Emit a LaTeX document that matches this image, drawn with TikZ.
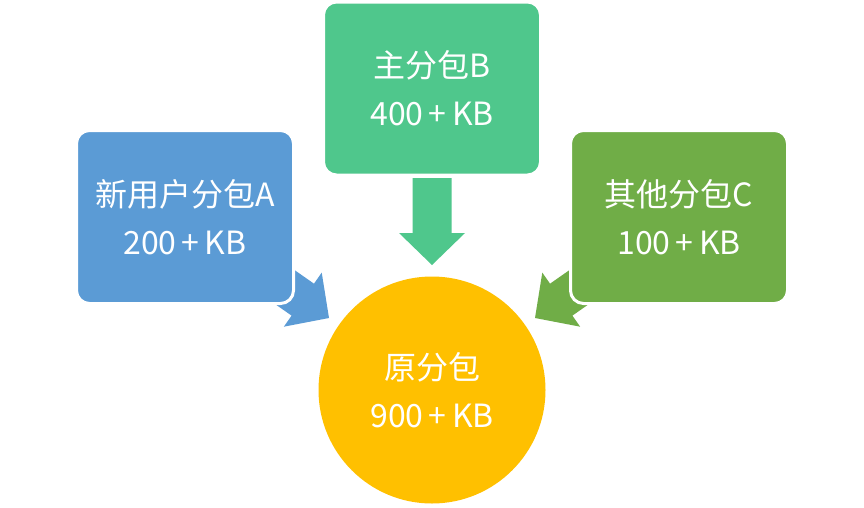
\documentclass[tikz,border=0pt]{standalone}
\usepackage{fontspec}
\newfontfamily\cjk{Noto Sans CJK SC}
\definecolor{cblue}{HTML}{5B9BD5}
\definecolor{cteal}{HTML}{4FC78C}
\definecolor{cgreen}{HTML}{70AD47}
\definecolor{cgold}{HTML}{FFC000}
\begin{document}
\begin{tikzpicture}[x=1pt,y=-1pt]
\tikzset{
  box/.style={rectangle, rounded corners=13pt, draw=white, line width=3pt,
    minimum width=217pt, minimum height=173pt, inner sep=0pt, text=white,
    font=\cjk\fontsize{32}{48}\selectfont, align=center},
  ball/.style={circle, minimum size=227pt, inner sep=0pt, text=white,
    font=\cjk\fontsize{32}{48}\selectfont, align=center},
}
\newcommand\blockarr[4]{%
  \begin{scope}[shift={(#1)}, rotate=#2]
    \fill[#3] (0,0) -- (-32pt,33pt) -- (-32pt,19.5pt) -- (-#4pt,19.5pt)
      -- (-#4pt,-19.5pt) -- (-32pt,-19.5pt) -- (-32pt,-33pt) -- cycle;
  \end{scope}}
\useasboundingbox (0,0) rectangle (864,507);
\fill[white] (0,0) rectangle (864,507);
\coordinate (tipA) at (329,318);
\coordinate (tipB) at (432,265);
\coordinate (tipC) at (535,318);
\blockarr{tipA}{-35}{cblue}{92}
\blockarr{tipB}{-90}{cteal}{87}
\blockarr{tipC}{-145}{cgreen}{92}
\node[box, fill=cblue] (A) at (185,217) {新用户分包A\\200\,+\,KB};
\node[box, fill=cteal] (B) at (432,88.5) {主分包B\\400\,+\,KB};
\node[box, fill=cgreen] (C) at (679,217) {其他分包C\\100\,+\,KB};
\node[ball, fill=cgold] (O) at (432,390) {原分包\\900\,+\,KB};
\end{tikzpicture}
\end{document}
